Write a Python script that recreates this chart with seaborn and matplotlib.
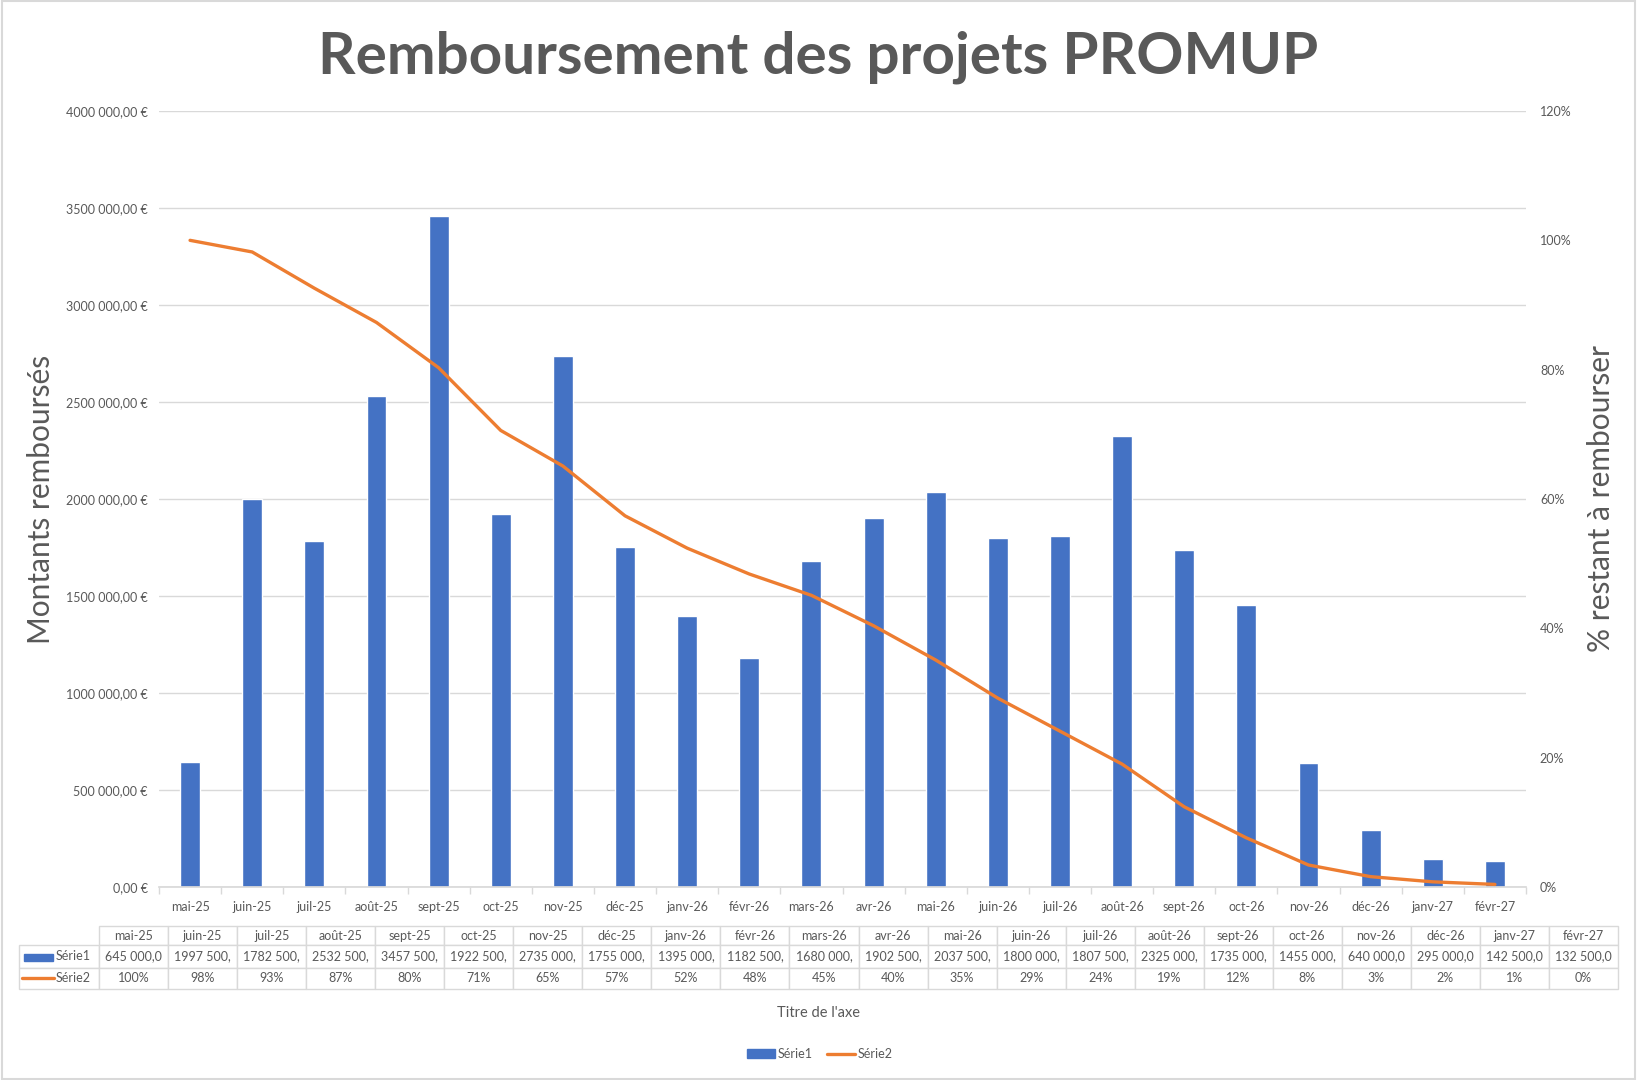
import numpy as np
import matplotlib
matplotlib.use("Agg")
import matplotlib.pyplot as plt
from matplotlib.patches import Rectangle
from matplotlib.lines import Line2D
import seaborn as sns

# donnees du graphique
mois = ["mai-25", "juin-25", "juil-25", "août-25", "sept-25", "oct-25", "nov-25",
        "déc-25", "janv-26", "févr-26", "mars-26", "avr-26", "mai-26", "juin-26",
        "juil-26", "août-26", "sept-26", "oct-26", "nov-26", "déc-26", "janv-27", "févr-27"]
montants = [645000, 1997500, 1782500, 2532500, 3457500, 1922500, 2735000,
            1755000, 1395000, 1182500, 1680000, 1902500, 2037500, 1800000,
            1807500, 2325000, 1735000, 1455000, 640000, 295000, 142500, 132500]
restant = [1.0, 0.982, 0.926, 0.873, 0.803, 0.706, 0.651,
           0.574, 0.524, 0.484, 0.451, 0.404, 0.351, 0.292,
           0.241, 0.190, 0.124, 0.076, 0.034, 0.016, 0.008, 0.004]

BLEU = "#4472C4"
ORANGE = "#ED7D31"
GRIS = "#595959"
GRILLE = "#D9D9D9"

sns.set_theme(style="white")
plt.rcParams["font.family"] = ["Lato", "DejaVu Sans"]


def euros(v, pos=None):
    v = int(v)
    if v == 0:
        return "0,00 €"
    return f"{v // 1000} {v % 1000:03d},00 €"


def cellule(v):
    return f"{v // 1000} {v % 1000:03d},00"[:9]


fig = plt.figure(figsize=(16.37, 10.8), dpi=100)
ax = fig.add_axes([159 / 1637, 1 - 887 / 1080, (1526 - 159) / 1637, (887 - 111) / 1080])

x = np.arange(len(mois))
sns.barplot(x=x, y=montants, color=BLEU, width=0.32, saturation=1, ax=ax, zorder=2)
ax.set_ylim(0, 4000000)
ax.set_yticks(np.arange(0, 4000001, 500000))
ax.yaxis.set_major_formatter(matplotlib.ticker.FuncFormatter(euros))
ax.grid(axis="y", color=GRILLE, lw=1)
ax.set_axisbelow(True)
ax.set_xlim(-0.5, len(mois) - 0.5)
ax.set_xticks(x)
ax.set_xticklabels(mois)
ax.set_xticks(np.arange(-0.5, len(mois)), minor=True)
ax.tick_params(axis="x", which="major", length=0, pad=10, labelsize=9, labelcolor=GRIS)
ax.tick_params(axis="x", which="minor", length=5, color=GRILLE, width=1, direction="out", bottom=True)
ax.tick_params(axis="y", length=0, pad=8, labelsize=9, labelcolor=GRIS)
for s in ["top", "left", "right"]:
    ax.spines[s].set_visible(False)
ax.spines["bottom"].set_color(GRILLE)
ax.set_ylabel("Montants remboursés", fontsize=21.5, color=GRIS, labelpad=8)
ax.set_xlabel("")

ax2 = ax.twinx()
sns.lineplot(x=x, y=restant, color=ORANGE, lw=2.4, ax=ax2, zorder=3)
ax2.set_ylim(0, 1.2)
ax2.set_yticks(np.arange(0, 1.21, 0.2))
ax2.set_yticklabels([f"{int(round(t * 100))}%" for t in np.arange(0, 1.21, 0.2)])
ax2.tick_params(axis="y", length=0, pad=10, labelsize=9, labelcolor=GRIS)
for s in ["top", "left", "right", "bottom"]:
    ax2.spines[s].set_visible(False)
ax2.set_ylabel("% restant à rembourser", fontsize=21.5, color=GRIS, labelpad=11)

fig.suptitle("Remboursement des projets PROMUP", fontsize=42, fontweight="bold",
             color=GRIS, y=1 - 57 / 1080, va="center", x=818 / 1637)

# tableau de donnees sous le graphique
axt = fig.add_axes([19 / 1637, 1 - 989 / 1080, (1618 - 19) / 1637, 63 / 1080])
axt.axis("off")
texte = [[""] + mois,
         ["Série1"] + [cellule(v) for v in montants],
         ["Série2"] + [f"{round(v * 100)}%" for v in restant]]
larg0 = 80 / 1599
largeurs = [larg0] + [(1 - larg0) / len(mois)] * len(mois)
tab = axt.table(cellText=texte, colWidths=largeurs, cellLoc="center", bbox=[0, 0, 1, 1])
tab.auto_set_font_size(False)
tab.set_fontsize(9)
hauteurs = [19 / 63, 23 / 63, 21 / 63]
for (r, c), cell in tab.get_celld().items():
    cell.set_edgecolor(GRILLE)
    cell.set_linewidth(1)
    cell.set_height(hauteurs[r])
    cell.get_text().set_color(GRIS)
    if c == 0:
        cell.get_text().set_ha("right")
        cell._loc = "right"
    if r == 0 and c == 0:
        cell.visible_edges = ""
axt.add_patch(Rectangle((0.003, 0.44), 0.018, 0.11, color=BLEU, transform=axt.transAxes, clip_on=False))
axt.add_line(Line2D([0.002, 0.022], [0.17, 0.17], color=ORANGE, lw=2.4, transform=axt.transAxes))

fig.text(0.5, 1 - 1013 / 1080, "Titre de l'axe", ha="center", va="center", fontsize=10.5, color=GRIS)

poignees = [Rectangle((0, 0), 1, 1, color=BLEU), Line2D([0], [0], color=ORANGE, lw=2.4)]
fig.legend(poignees, ["Série1", "Série2"], loc="center", bbox_to_anchor=(820 / 1637, 1 - 1054 / 1080),
           ncol=2, frameon=False, fontsize=9, labelcolor=GRIS, handlelength=2.2,
           handletextpad=0.2, columnspacing=1.2)

fig.add_artist(Rectangle((0.001, 0.001), 0.998, 0.998, transform=fig.transFigure,
                         fill=False, edgecolor=GRILLE, lw=1.5))

fig.savefig("out.png", dpi=100)
